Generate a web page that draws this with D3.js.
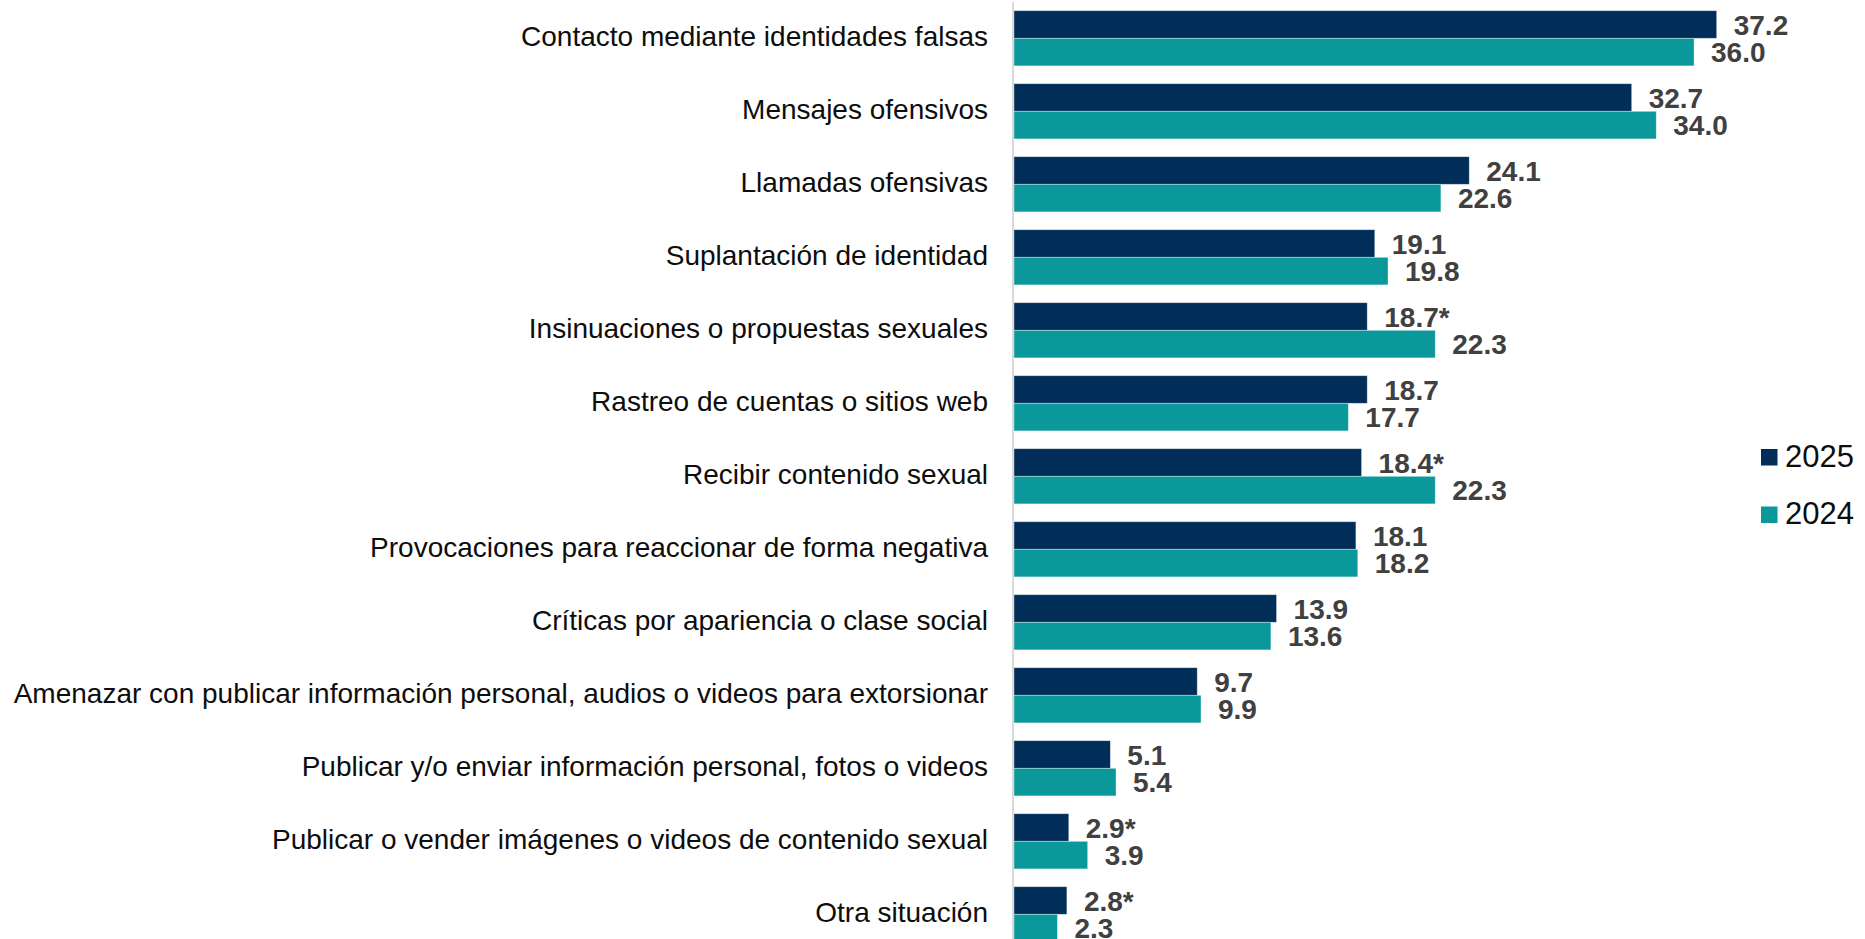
<!DOCTYPE html>
<html>
<head>
<meta charset="utf-8">
<script src="https://cdn.jsdelivr.net/npm/d3@7"></script>
<style>
    html, body { margin: 0; padding: 0; background: #fff; overflow: hidden; }
    svg { display: block; font-family: "Liberation Sans", Arial, sans-serif; }
</style>
</head>
<body>
<svg id="chart" width="1865" height="939"></svg>
<script>
const CATEGORIES = [
    "Contacto mediante identidades falsas",
    "Mensajes ofensivos",
    "Llamadas ofensivas",
    "Suplantación de identidad",
    "Insinuaciones o propuestas sexuales",
    "Rastreo de cuentas o sitios web",
    "Recibir contenido sexual",
    "Provocaciones para reaccionar de forma negativa",
    "Críticas por apariencia o clase social",
    "Amenazar con publicar información personal, audios o videos para extorsionar",
    "Publicar y/o enviar información personal, fotos o videos",
    "Publicar o vender imágenes o videos de contenido sexual",
    "Otra situación",
];
const SERIES = ["2025", "2024"];
const VALUES_2025 = [37.2, 32.7, 24.1, 19.1, 18.7, 18.7, 18.4, 18.1, 13.9, 9.7, 5.1, 2.9, 2.8];
const VALUES_2024 = [36.0, 34.0, 22.6, 19.8, 22.3, 17.7, 22.3, 18.2, 13.6, 9.9, 5.4, 3.9, 2.3];
// asterisk = significant change vs 2024
const FLAGS_2025 = [false, false, false, false, true, false, true, false, false, false, false, true, true];

const COLORS = { "2025": "#002E58", "2024": "#0A989B" };

const X0 = 1014;
const X_PER_UNIT = 18.89;

const svg = d3.select("#chart");

const rows = CATEGORIES.map((c, i) => ({
    cat: c,
    bars: [
        { key: "2025", value: VALUES_2025[i], flag: FLAGS_2025[i] },
        { key: "2024", value: VALUES_2024[i], flag: false },
    ],
}));

const x = d3
    .scaleLinear()
    .domain([0, 37.2])
    .range([X0, X0 + 37.2 * X_PER_UNIT]);

const y = d3
    .scaleBand()
    .domain(CATEGORIES)
    .range([1.8, 1.8 + CATEGORIES.length * 73])
    .paddingInner(0.244)
    .paddingOuter(0.122);

const ySub = d3.scaleBand().domain(SERIES).range([0, y.bandwidth()]);

const groups = svg
    .selectAll("g.row")
    .data(rows)
    .enter()
    .append("g")
    .attr("class", "row")
    .attr("transform", (d) => `translate(0,${y(d.cat)})`);

groups
    .selectAll("rect")
    .data((d) => d.bars)
    .enter()
    .append("rect")
    .attr("x", x(0))
    .attr("y", (d) => ySub(d.key))
    .attr("width", (d) => x(d.value) - x(0))
    .attr("height", ySub.bandwidth())
    .style("fill", (d) => COLORS[d.key])
    .style("stroke", "#ffffff")
    .style("stroke-opacity", 0.5)
    .style("stroke-width", 0.75);

groups
    .selectAll("text.value")
    .data((d) => d.bars)
    .enter()
    .append("text")
    .attr("class", "value")
    .attr("x", (d) => x(d.value) + 17)
    .attr("y", (d) => ySub(d.key) + ySub.bandwidth() / 2)
    .attr("dy", "0.37em")
    .style("font-size", "28px")
    .style("font-weight", "bold")
    .style("fill", "#404040")
    .text((d) => d.value.toFixed(1) + (d.flag ? "*" : ""));

groups
    .append("text")
    .attr("class", "cat")
    .attr("x", 988)
    .attr("y", y.bandwidth() / 2)
    .attr("dy", "0.29em")
    .attr("text-anchor", "end")
    .style("font-size", "28px")
    .style("fill", "#0d0d0d")
    .text((d) => d.cat);

// vertical axis line
svg.append("line")
    .attr("x1", x(0) - 1)
    .attr("x2", x(0) - 1)
    .attr("y1", 2)
    .attr("y2", 939)
    .style("stroke", "#d9d9d9")
    .style("stroke-width", 2);

// legend
const legend = svg.append("g").attr("class", "legend").attr("transform", "translate(1761,449)");
const items = legend
    .selectAll("g")
    .data(SERIES)
    .enter()
    .append("g")
    .attr("transform", (_, i) => `translate(0,${i * 57.5})`);

items.append("rect")
    .attr("width", 16.5)
    .attr("height", 16.5)
    .style("fill", (d) => COLORS[d]);

items.append("text")
    .attr("x", 24)
    .attr("y", 17.5)
    .style("font-size", "31px")
    .style("fill", "#0d0d0d")
    .text((d) => d);
</script>
</body>
</html>
